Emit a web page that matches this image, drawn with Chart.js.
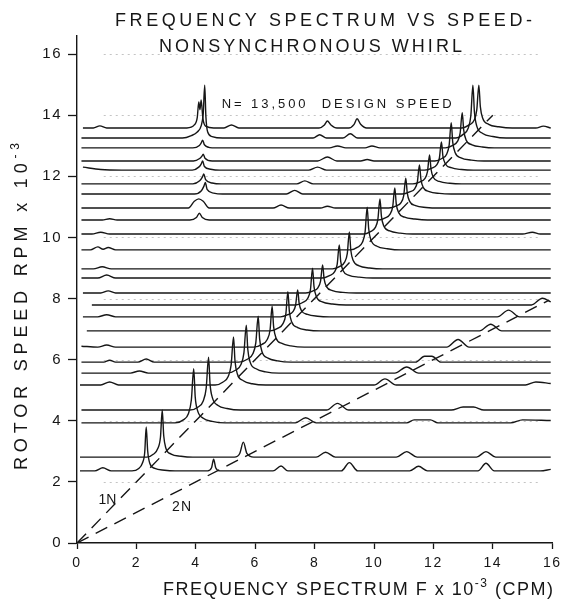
<!DOCTYPE html>
<html>
<head>
<meta charset="utf-8">
<script src="https://cdn.jsdelivr.net/npm/chart.js@4/dist/chart.umd.min.js"></script>
<style>
html, body { margin: 0; padding: 0; background: #fff; }
canvas { display: block; }
</style>
</head>
<body>
<canvas id="waterfall" width="566" height="603"></canvas>
<script>
// --- Axis ticks ---
const freqTicks = [0, 2, 4, 6, 8, 10, 12, 14, 16];
const rpmTicks = [0, 2, 4, 6, 8, 10, 12, 14, 16];

// --- Rotor speed of each spectrum trace (RPM x 10^-3), bottom to top ---
const traceRpm = [2.36, 2.81, 3.93, 4.35, 5.17, 5.56, 5.92, 6.41, 6.94, 7.40, 7.79, 8.18, 8.67,
                  8.97, 9.59, 10.11, 10.57, 10.96, 11.42, 11.75, 12.20, 12.50, 12.93, 13.25, 13.58];

// --- Spectrum of each trace: [frequency F x 10^-3, amplitude above the trace baseline] ---
const traceSpectra = [
  [[0.1,0],[0.6,0],[0.87,0.1],[1.15,0],
   [1.85,0],[2.08,0.08],[2.2,0.25],[2.28,0.6],[2.33,1.44],[2.38,0.65],[2.45,0.25],[2.62,0.08],[2.95,0.02],[3.3,0],
   [4.4,0],[4.53,0.1],[4.6,0.38],[4.67,0.1],[4.8,0],[6.6,0],[6.87,0.16],[7.1,0],[8.9,0],[9.17,0.27],[9.45,0],
   [11.2,0],[11.5,0.15],[11.8,0],[13.5,0],[13.77,0.25],[14.05,0],[15.6,0],[15.95,0.05]],
  [[0.1,0],
   [2.35,0],[2.58,0.1],[2.72,0.28],[2.81,0.65],[2.87,1.54],[2.92,0.7],[2.99,0.3],[3.17,0.1],[3.5,0.03],[3.9,0],
   [5.3,0],[5.48,0.12],[5.6,0.49],[5.72,0.12],[5.95,0],[8.05,0],[8.37,0.16],[8.7,0],
   [10.75,0],[11.1,0.18],[11.45,0],[13.45,0],[13.77,0.18],[14.1,0],[15.95,0]],
  [[0.15,0],
   [3.3,0],[3.58,0.1],[3.75,0.3],[3.85,0.75],[3.93,1.77],[3.98,0.85],[4.06,0.4],[4.25,0.15],[4.55,0.05],[5.0,0],
   [7.35,0],[7.7,0.17],[8.05,0],[11.1,0],[11.35,0.1],[11.9,0.1],[12.15,0],[14.6,0],[15.0,0.1],[15.95,0.08]],
  [[0.15,0],
   [3.8,0],[4.08,0.1],[4.25,0.3],[4.35,0.72],[4.43,1.73],[4.48,0.85],[4.56,0.4],[4.75,0.15],[5.05,0.05],[5.5,0],
   [8.4,0],[8.77,0.22],[9.15,0],[12.6,0],[13.0,0.1],[13.35,0.1],[13.7,0],[15.95,0]],
  [[0.1,0],[0.8,0],[1.1,0.1],[1.4,0],
   [4.65,0],[4.92,0.1],[5.09,0.28],[5.19,0.66],[5.27,1.57],[5.32,0.78],[5.4,0.36],[5.6,0.14],[5.9,0.04],[6.35,0],
   [10.0,0],[10.37,0.2],[10.75,0],[15.1,0],[15.45,0.1],[15.95,0.05]],
  [[0.15,0],[1.8,0],[2.1,0.07],[2.4,0],
   [5.05,0],[5.35,0.1],[5.52,0.28],[5.62,0.66],[5.7,1.57],[5.75,0.78],[5.83,0.36],[6.03,0.14],[6.35,0.04],[6.8,0],
   [10.7,0],[11.1,0.2],[11.5,0],[15.95,0]],
  [[0.15,0],[0.9,0],[1.1,0.06],[1.3,0],[2.05,0],[2.33,0.1],[2.6,0],
   [5.45,0],[5.75,0.1],[5.92,0.27],[6.02,0.63],[6.1,1.5],[6.15,0.75],[6.23,0.34],[6.43,0.13],[6.75,0.04],[7.2,0],
   [11.4,0],[11.7,0.19],[11.95,0.19],[12.25,0],[15.95,0]],
  [[0.15,0.03],[0.7,0],[1.0,0.07],[1.3,0],
   [5.95,0],[6.23,0.09],[6.4,0.24],[6.5,0.56],[6.57,1.34],[6.62,0.67],[6.7,0.3],[6.9,0.12],[7.2,0.04],[7.65,0],
   [12.45,0],[12.83,0.25],[13.2,0],[15.95,0]],
  [[0.33,0],
   [6.5,0],[6.77,0.09],[6.93,0.23],[7.03,0.54],[7.1,1.28],[7.15,0.64],[7.23,0.29],[7.43,0.11],[7.75,0.03],[8.2,0],
   [13.55,0],[13.93,0.22],[14.3,0],[15.95,0]],
  [[0.2,0],[0.7,0],[1.0,0.07],[1.3,0],
   [6.85,0],[7.1,0.07],[7.27,0.17],[7.36,0.38],[7.43,0.88],[7.48,0.44],[7.56,0.2],[7.76,0.08],[8.1,0.02],[8.5,0],
   [14.15,0],[14.53,0.22],[14.9,0],[15.95,0]],
  [[0.5,0],
   [7.35,0],[7.6,0.08],[7.77,0.22],[7.86,0.5],[7.93,1.2],[7.98,0.6],[8.06,0.27],[8.26,0.1],[8.6,0.03],[9.05,0],
   [15.3,0],[15.67,0.22],[15.95,0.1]],
  [[0.2,0],[0.8,0],[1.05,0.07],[1.3,0],
   [7.7,0],[7.95,0.07],[8.11,0.17],[8.2,0.39],[8.27,0.92],[8.32,0.46],[8.4,0.21],[8.6,0.08],[8.95,0.02],[9.4,0],[15.95,0]],
  [[0.15,0],[0.7,0],[1.0,0.1],[1.3,0],
   [8.25,0],[8.5,0.08],[8.67,0.2],[8.76,0.45],[8.83,1.08],[8.88,0.54],[8.96,0.24],[9.16,0.09],[9.5,0.03],[9.95,0],[15.95,0]],
  [[0.15,0],[0.55,0],[0.85,0.07],[1.15,0],
   [8.6,0],[8.85,0.08],[9.01,0.22],[9.1,0.5],[9.17,1.21],[9.22,0.6],[9.3,0.27],[9.5,0.1],[9.85,0.03],[10.3,0],[15.95,0]],
  [[0.15,0],[0.45,0],[0.7,0.1],[0.88,0.02],[1.05,0.08],[1.3,0],
   [9.2,0],[9.45,0.09],[9.61,0.25],[9.7,0.59],[9.77,1.4],[9.82,0.7],[9.9,0.32],[10.1,0.12],[10.45,0.04],[10.9,0],[15.95,0]],
  [[0.15,0],[0.5,0],[0.8,0.06],[1.1,0],
   [9.65,0],[9.88,0.08],[10.04,0.21],[10.13,0.48],[10.2,1.15],[10.25,0.58],[10.33,0.26],[10.53,0.1],[10.88,0.03],[11.3,0],
   [15.0,0],[15.33,0.06],[15.6,0],[15.95,0]],
  [[0.15,0],[0.85,0],[1.1,0.04],[1.35,0],[3.8,0],[4.02,0.08],[4.12,0.22],[4.22,0.08],[4.45,0],
   [10.15,0],[10.38,0.07],[10.54,0.19],[10.63,0.44],[10.7,1.05],[10.75,0.52],[10.83,0.24],[11.03,0.09],[11.38,0.03],[11.8,0],[15.95,0]],
  [[0.15,0],[3.75,0],[3.95,0.22],[4.1,0.3],[4.25,0.22],[4.45,0],[6.6,0],[6.87,0.1],[7.15,0],[8.2,0],[8.43,0.06],[8.7,0],
   [10.5,0],[10.75,0.07],[10.91,0.18],[11.0,0.41],[11.07,0.98],[11.12,0.49],[11.2,0.22],[11.4,0.08],[11.75,0.02],[12.2,0],[15.95,0]],
  [[0.15,0],[3.95,0],[4.18,0.1],[4.27,0.25],[4.32,0.38],[4.38,0.15],[4.6,0.03],[4.9,0],[7.05,0],[7.33,0.12],[7.6,0],
   [10.95,0],[11.2,0.07],[11.37,0.17],[11.46,0.4],[11.53,0.95],[11.58,0.48],[11.66,0.21],[11.86,0.08],[12.2,0.02],[12.6,0],[15.95,0]],
  [[0.15,0],[3.9,0],[4.13,0.1],[4.22,0.22],[4.27,0.33],[4.33,0.14],[4.55,0.03],[4.85,0],[7.4,0],[7.67,0.1],[7.95,0],
   [11.3,0],[11.55,0.07],[11.71,0.17],[11.8,0.4],[11.87,0.95],[11.92,0.48],[12.0,0.21],[12.2,0.08],[12.55,0.02],[12.95,0],[15.95,0]],
  [[0.2,0.1],[0.8,0.02],[1.5,0],[3.88,0],[4.1,0.1],[4.18,0.2],[4.23,0.3],[4.29,0.12],[4.5,0.03],[4.8,0],[7.8,0],[8.1,0.1],[8.4,0],
   [11.7,0],[11.95,0.07],[12.11,0.17],[12.2,0.39],[12.27,0.92],[12.32,0.46],[12.4,0.21],[12.6,0.08],[12.95,0.02],[13.35,0],[15.95,0]],
  [[0.15,0],[3.92,0],[4.13,0.08],[4.2,0.15],[4.25,0.22],[4.31,0.09],[4.55,0],[8.1,0],[8.43,0.13],[8.75,0],[9.55,0],[9.77,0.05],[10.0,0],
   [12.05,0],[12.3,0.09],[12.45,0.23],[12.53,0.52],[12.6,1.25],[12.65,0.62],[12.73,0.28],[12.93,0.1],[13.28,0.03],[13.7,0],[15.95,0]],
  [[0.15,0],[3.9,0],[4.12,0.08],[4.18,0.16],[4.23,0.25],[4.29,0.1],[4.55,0],[8.5,0],[8.77,0.06],[9.05,0],[9.7,0],[9.93,0.06],[10.2,0],
   [12.4,0],[12.65,0.08],[12.81,0.21],[12.9,0.48],[12.97,1.15],[13.02,0.58],[13.1,0.26],[13.3,0.1],[13.65,0.03],[14.05,0],[15.95,0]],
  [[0.15,0],[3.55,0],[3.85,0.08],[4.05,0.2],[4.18,0.4],[4.25,0.8],[4.3,1.73],[4.34,0.7],[4.4,0.2],[4.55,0.05],[4.9,0],
   [7.95,0],[8.17,0.11],[8.4,0],[8.95,0],[9.2,0.14],[9.45,0],
   [12.75,0],[13.0,0.12],[13.17,0.32],[13.26,0.73],[13.33,1.73],[13.38,0.86],[13.46,0.39],[13.66,0.15],[14.0,0.05],[14.45,0],[15.95,0]],
  [[0.2,0],[0.55,0],[0.77,0.07],[1.0,0],[3.7,0],[3.95,0.1],[4.05,0.35],[4.1,0.85],[4.14,0.6],[4.18,0.92],[4.24,0.3],[4.35,0.05],[4.6,0],
   [4.95,0],[5.2,0.1],[5.45,0],[8.15,0],[8.33,0.1],[8.43,0.23],[8.55,0.1],[8.75,0],[9.15,0],[9.33,0.12],[9.43,0.3],[9.55,0.12],[9.75,0],
   [12.95,0],[13.2,0.1],[13.37,0.25],[13.46,0.59],[13.53,1.4],[13.58,0.7],[13.66,0.32],[13.86,0.12],[14.2,0.04],[14.65,0],
   [15.45,0],[15.7,0.06],[15.95,0]]
];

// --- Running-speed order lines [F, RPM] ---
const oneNLine = [[0, 0], [14.0, 14.0]];
const twoNLine = [[0, 0], [15.9, 7.95]];

// --- Text notes placed in data units [F, RPM] ---
const notes = [
  { text: 'N= 13,500  DESIGN SPEED', at: [4.87, 14.23], size: 13, width: 230 },
  { text: '1N', at: [0.72, 1.28], size: 14, width: 18 },
  { text: '2N', at: [3.2, 1.05], size: 14, width: 19 }
];

const INK = '#161616';
const FONT = '"Liberation Sans", Arial, sans-serif';

function spacedText(ctx, parts, x, y, width) {
  // parts: [text, size, raise]
  ctx.letterSpacing = '0px';
  let total = 0, count = 0;
  const widths = parts.map(p => {
    ctx.font = p[1] + 'px ' + FONT;
    const w = ctx.measureText(p[0]).width;
    total += w;
    count += p[0].length;
    return w;
  });
  const gap = (width - total) / (count - 1);
  ctx.letterSpacing = gap.toFixed(2) + 'px';
  let cx = x;
  parts.forEach((p, i) => {
    ctx.font = p[1] + 'px ' + FONT;
    ctx.fillText(p[0], cx, y - (p[2] || 0));
    cx += widths[i] + gap * p[0].length;
  });
  ctx.letterSpacing = '0px';
}

const dottedGridPlugin = {
  id: 'dottedGrid',
  beforeDatasetsDraw(chart) {
    const { ctx, chartArea, scales } = chart;
    ctx.save();
    ctx.strokeStyle = '#c4c4c4';
    ctx.lineWidth = 1;
    ctx.setLineDash([2, 4]);
    rpmTicks.slice(1).forEach(v => {
      const y = Math.round(scales.y.getPixelForValue(v)) + 0.5;
      ctx.beginPath();
      ctx.moveTo(scales.x.getPixelForValue(0.9), y);
      ctx.lineTo(chartArea.right - 12, y);
      ctx.stroke();
    });
    ctx.restore();
  }
};

const lettersPlugin = {
  id: 'letters',
  beforeDraw(chart) {
    chart.ctx.letterSpacing = '1.5px';
  },
  afterDraw(chart) {
    const { ctx, scales } = chart;
    ctx.save();
    ctx.fillStyle = INK;
    ctx.textAlign = 'left';
    ctx.textBaseline = 'alphabetic';

    // title
    spacedText(ctx, [['FREQUENCY SPECTRUM VS SPEED-', 18]], 115, 26, 417);
    spacedText(ctx, [['NONSYNCHRONOUS WHIRL', 18]], 159, 52, 303);

    // x axis title
    spacedText(ctx, [['FREQUENCY SPECTRUM F x 10', 18], ['-3', 12, 8], [' (CPM)', 18]], 163, 595, 390);

    // y axis title
    ctx.save();
    ctx.translate(27, 470);
    ctx.rotate(-Math.PI / 2);
    spacedText(ctx, [['ROTOR SPEED RPM x 10', 18], ['-3', 12, 8]], 0, 0, 327);
    ctx.restore();

    // notes
    notes.forEach(n => {
      spacedText(ctx, [[n.text, n.size]], scales.x.getPixelForValue(n.at[0]),
        scales.y.getPixelForValue(n.at[1]), n.width);
    });
    ctx.restore();
  }
};

const toPoints = pairs => pairs.map(([x, y]) => ({ x, y }));

const datasets = traceRpm.map((rpm, i) => ({
  data: traceSpectra[i].map(([f, a]) => ({ x: f, y: rpm + a })),
  showLine: true,
  borderColor: INK,
  borderWidth: 1.4,
  pointRadius: 0,
  cubicInterpolationMode: 'monotone',
  fill: false
}));

[oneNLine, twoNLine].forEach(line => {
  datasets.push({
    data: toPoints(line),
    showLine: true,
    borderColor: INK,
    borderWidth: 1.4,
    borderDash: [13, 8],
    pointRadius: 0,
    fill: false
  });
});

Chart.defaults.font.family = FONT;
Chart.defaults.color = INK;

new Chart(document.getElementById('waterfall'), {
  type: 'scatter',
  data: { datasets },
  options: {
    responsive: false,
    animation: false,
    devicePixelRatio: 1,
    layout: { padding: { left: 0, right: 9, top: 36, bottom: 0 } },
    plugins: { legend: { display: false }, tooltip: { enabled: false } },
    scales: {
      x: {
        type: 'linear',
        min: 0,
        max: 16,
        afterFit: s => { s.height = 60; },
        afterBuildTicks: s => { s.ticks = freqTicks.map(v => ({ value: v })); },
        grid: { drawOnChartArea: false, tickLength: 6, tickColor: INK, tickWidth: 1.3 },
        border: { color: INK, width: 1.4 },
        ticks: { font: { size: 14 }, padding: 6, color: INK, maxRotation: 0 }
      },
      y: {
        type: 'linear',
        min: 0,
        max: 16.59,
        afterFit: s => { s.width = 77; },
        afterBuildTicks: s => { s.ticks = rpmTicks.map(v => ({ value: v })); },
        grid: { drawOnChartArea: false, tickLength: 9, tickColor: INK, tickWidth: 1.3 },
        border: { color: INK, width: 1.4 },
        ticks: { font: { size: 15 }, padding: 6, color: INK }
      }
    }
  },
  plugins: [dottedGridPlugin, lettersPlugin]
});
</script>
</body>
</html>
